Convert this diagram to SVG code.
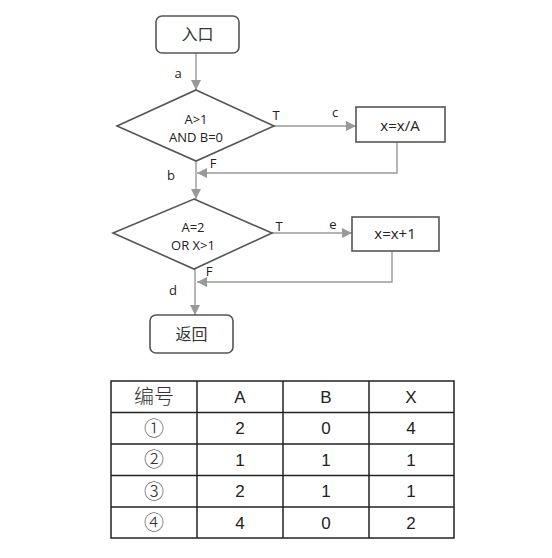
<svg xmlns="http://www.w3.org/2000/svg" width="552" height="558" viewBox="0 0 552 558">
<style>
.box{fill:#fff;stroke:#555;stroke-width:1.6}
.ln{fill:none;stroke:#999;stroke-width:1.4}
.t{font-family:"Open Sans","Liberation Sans","Noto Sans CJK SC",sans-serif;font-size:13px;fill:#222;text-anchor:middle}
.b{font-size:15px}
.cn{font-family:"Noto Sans CJK SC",sans-serif;font-size:16px;fill:#333;text-anchor:middle}
.tb{fill:none;stroke:#222;stroke-width:1.5}
.tt{font-family:"Liberation Sans","Noto Sans CJK SC",sans-serif;font-size:17px;fill:#222;text-anchor:middle}
.tc{font-family:"Noto Sans CJK SC",sans-serif;font-size:20px;fill:#333;text-anchor:middle;font-weight:300}
</style>
<defs>
<marker id="ah" viewBox="0 0 10 10" refX="10" refY="5" markerWidth="10" markerHeight="10" markerUnits="userSpaceOnUse" orient="auto">
<path d="M0,0 L10,5 L0,10 z" fill="#999"/>
</marker>
</defs>
<g id="connectors">
<path class="ln" d="M196,53 V90" marker-end="url(#ah)"/>
<path class="ln" d="M274,126 H356" marker-end="url(#ah)"/>
<path class="ln" d="M397,142 V173 H197" marker-end="url(#ah)"/>
<path class="ln" d="M196,161 V199" marker-end="url(#ah)"/>
<path class="ln" d="M272,233 H352" marker-end="url(#ah)"/>
<path class="ln" d="M392,251 V282 H197" marker-end="url(#ah)"/>
<path class="ln" d="M195,269 V315" marker-end="url(#ah)"/>
<text class="t" x="178" y="78">a</text>
<text class="t" x="276" y="120">T</text>
<text class="t" x="335" y="117">c</text>
<text class="t" x="213" y="168">F</text>
<text class="t" x="171" y="180">b</text>
<text class="t" x="279" y="231">T</text>
<text class="t" x="333" y="229">e</text>
<text class="t" x="209" y="276">F</text>
<text class="t" x="173" y="295">d</text>
</g>
<g id="entry">
<rect class="box" x="156" y="16" width="83" height="37" rx="6"/>
<text class="cn" x="197.5" y="40">入口</text>
</g>
<g id="cond1">
<path class="box" d="M196,90 L274,126 L196,161 L117,126 z"/>
<text class="t" x="196" y="124">A&gt;1</text>
<text class="t" x="196" y="142">AND B=0</text>
</g>
<g id="div">
<rect class="box" x="356" y="107" width="89" height="35"/>
<text class="t b" x="400" y="131">x=x/A</text>
</g>
<g id="cond2">
<path class="box" d="M194,199 L272,233 L194,269 L113,233 z"/>
<text class="t" x="193" y="232">A=2</text>
<text class="t" x="193" y="250">OR X&gt;1</text>
</g>
<g id="inc">
<rect class="box" x="352" y="217" width="87" height="34"/>
<text class="t b" x="395" y="239">x=x+1</text>
</g>
<g id="ret">
<rect class="box" x="150" y="315" width="83" height="38" rx="6"/>
<text class="cn" x="191.5" y="340">返回</text>
</g>
<g id="table">
<rect class="tb" x="111" y="381" width="343" height="157"/>
<path class="tb" d="M197,381 V538 M283,381 V538 M369,381 V538 M111,412.5 H454 M111,444 H454 M111,475.5 H454 M111,507 H454"/>
<text class="tc" x="154" y="404">编号</text>
<text class="tt" x="240" y="403">A</text>
<text class="tt" x="326" y="403">B</text>
<text class="tt" x="411" y="403">X</text>
<text class="tc" x="154" y="436">①</text>
<text class="tt" x="240" y="434">2</text>
<text class="tt" x="326" y="434">0</text>
<text class="tt" x="411" y="434">4</text>
<text class="tc" x="154" y="467">②</text>
<text class="tt" x="240" y="466">1</text>
<text class="tt" x="326" y="466">1</text>
<text class="tt" x="411" y="466">1</text>
<text class="tc" x="154" y="499">③</text>
<text class="tt" x="240" y="497">2</text>
<text class="tt" x="326" y="497">1</text>
<text class="tt" x="411" y="497">1</text>
<text class="tc" x="154" y="530">④</text>
<text class="tt" x="240" y="529">4</text>
<text class="tt" x="326" y="529">0</text>
<text class="tt" x="411" y="529">2</text>
</g>
</svg>
